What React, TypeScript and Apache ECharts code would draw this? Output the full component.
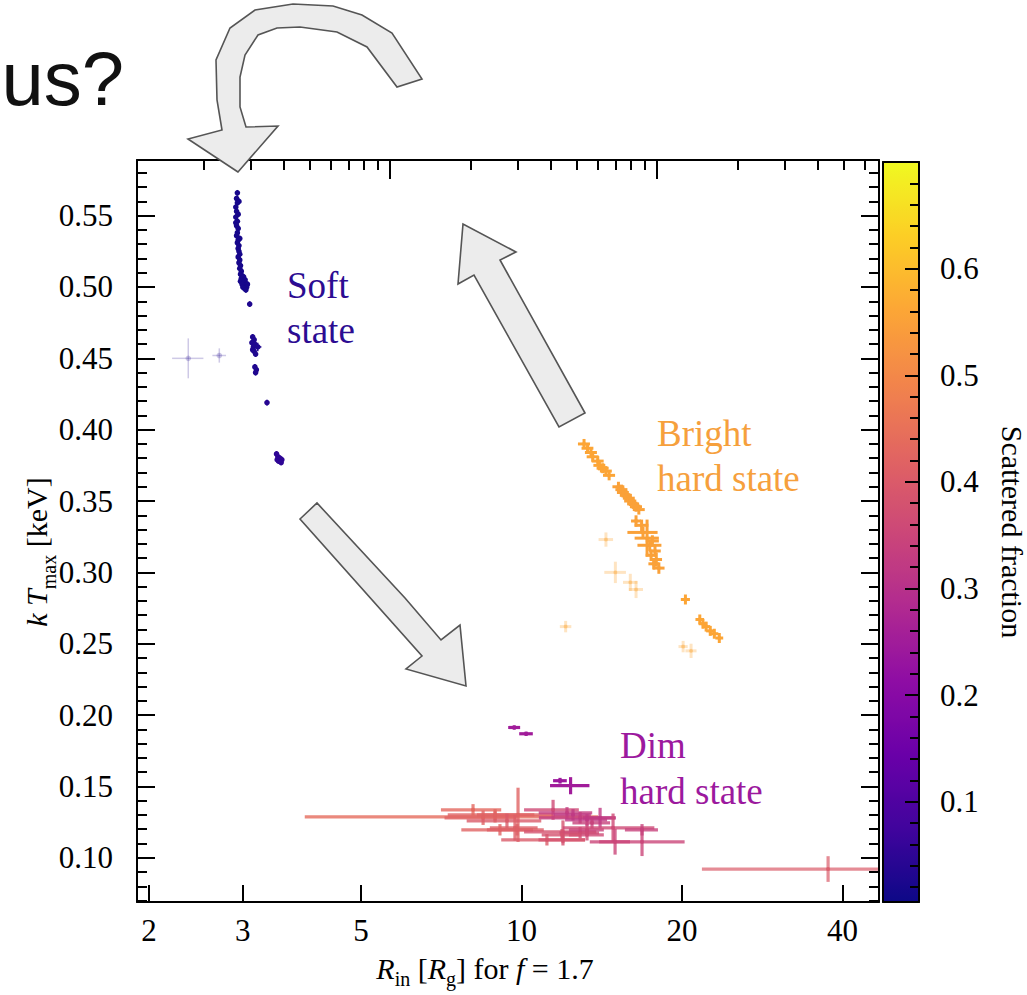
import React, { useEffect, useRef } from "react";
import * as echarts from "echarts";

// matplotlib "plasma" colour map stops
const PLASMA = [
  "#0d0887", "#41049d", "#6a00a8", "#8f0da4", "#b12a90", "#cc4778",
  "#e16462", "#f2844b", "#fca636", "#fcce25", "#f0f921",
];

// axis ranges
const R_MIN = 1.899;
const R_MAX = 46.85;
const KT_MIN = 0.069;
const KT_MAX = 0.589;
const TOP_MIN = 1.128;
const TOP_MAX = 678.6;
const FRAC_MIN = 0.006;
const FRAC_MAX = 0.7;

// tick values
const R_TICKS = [2, 3, 5, 10, 20, 40];
const KT_TICKS = [0.1, 0.15, 0.2, 0.25, 0.3, 0.35, 0.4, 0.45, 0.5, 0.55];
const KT_MINOR = [
  0.07, 0.08, 0.09, 0.11, 0.12, 0.13, 0.14, 0.16, 0.17, 0.18, 0.19, 0.21, 0.22,
  0.23, 0.24, 0.26, 0.27, 0.28, 0.29, 0.31, 0.32, 0.33, 0.34, 0.36, 0.37, 0.38,
  0.39, 0.41, 0.42, 0.43, 0.44, 0.46, 0.47, 0.48, 0.49, 0.51, 0.52, 0.53, 0.54,
  0.56, 0.57, 0.58,
];
const TOP_MAJOR = [10, 100];
const TOP_MINOR = [
  2, 3, 4, 5, 6, 7, 8, 9, 20, 30, 40, 50, 60, 70, 80, 90, 200, 300, 400, 500, 600,
];
const FRAC_TICKS = [0.1, 0.2, 0.3, 0.4, 0.5, 0.6];
const FRAC_MINOR = [
  0.02, 0.04, 0.06, 0.08, 0.12, 0.14, 0.16, 0.18, 0.22, 0.24, 0.26, 0.28, 0.32,
  0.34, 0.36, 0.38, 0.42, 0.44, 0.46, 0.48, 0.52, 0.54, 0.56, 0.58, 0.62, 0.64,
  0.66, 0.68,
];

// [R_in, kT_max, R_in error, kT error, scattered fraction, opacity]
const SOFT_STATE = [
  [2.93, 0.566, 0.01, 0.002, 0.02, 1],
  [2.92, 0.562, 0.01, 0.002, 0.02, 1],
  [2.95, 0.56, 0.01, 0.002, 0.02, 1],
  [2.93, 0.559, 0.01, 0.002, 0.02, 1],
  [2.91, 0.556, 0.01, 0.002, 0.02, 1],
  [2.92, 0.553, 0.01, 0.002, 0.02, 1],
  [2.94, 0.551, 0.01, 0.002, 0.02, 1],
  [2.91, 0.549, 0.01, 0.002, 0.02, 1],
  [2.93, 0.546, 0.01, 0.002, 0.02, 1],
  [2.91, 0.545, 0.01, 0.002, 0.02, 1],
  [2.92, 0.543, 0.01, 0.002, 0.02, 1],
  [2.94, 0.541, 0.01, 0.002, 0.02, 1],
  [2.93, 0.538, 0.01, 0.002, 0.02, 1],
  [2.92, 0.536, 0.01, 0.002, 0.02, 1],
  [2.96, 0.534, 0.01, 0.002, 0.02, 1],
  [2.94, 0.533, 0.01, 0.002, 0.02, 1],
  [2.93, 0.531, 0.01, 0.002, 0.02, 1],
  [2.95, 0.529, 0.01, 0.002, 0.02, 1],
  [2.94, 0.527, 0.01, 0.002, 0.02, 1],
  [2.95, 0.525, 0.01, 0.002, 0.02, 1],
  [2.96, 0.523, 0.01, 0.002, 0.02, 1],
  [2.94, 0.521, 0.01, 0.002, 0.02, 1],
  [2.96, 0.519, 0.01, 0.002, 0.02, 1],
  [2.95, 0.517, 0.01, 0.002, 0.02, 1],
  [2.97, 0.515, 0.01, 0.002, 0.02, 1],
  [2.96, 0.513, 0.01, 0.002, 0.02, 1],
  [2.98, 0.511, 0.01, 0.002, 0.02, 1],
  [2.97, 0.509, 0.01, 0.002, 0.02, 1],
  [2.99, 0.508, 0.01, 0.002, 0.02, 1],
  [2.98, 0.506, 0.01, 0.002, 0.02, 1],
  [3.01, 0.507, 0.01, 0.002, 0.02, 1],
  [3.0, 0.505, 0.01, 0.002, 0.02, 1],
  [3.03, 0.505, 0.01, 0.002, 0.02, 1],
  [2.97, 0.504, 0.01, 0.002, 0.02, 1],
  [3.01, 0.503, 0.01, 0.002, 0.02, 1],
  [2.99, 0.502, 0.01, 0.002, 0.02, 1],
  [3.06, 0.502, 0.01, 0.002, 0.02, 1],
  [3.03, 0.501, 0.01, 0.002, 0.02, 1],
  [3.0, 0.5, 0.01, 0.002, 0.02, 1],
  [3.05, 0.5, 0.01, 0.002, 0.02, 1],
  [3.02, 0.499, 0.01, 0.002, 0.02, 1],
  [3.04, 0.498, 0.01, 0.002, 0.02, 1],
  [3.09, 0.488, 0.01, 0.002, 0.03, 1],
  [3.13, 0.465, 0.01, 0.002, 0.03, 1],
  [3.15, 0.463, 0.01, 0.002, 0.03, 1],
  [3.12, 0.461, 0.01, 0.002, 0.03, 1],
  [3.16, 0.46, 0.01, 0.002, 0.03, 1],
  [3.14, 0.458, 0.01, 0.002, 0.03, 1],
  [3.2, 0.458, 0.05, 0.003, 0.03, 1],
  [3.13, 0.456, 0.01, 0.002, 0.03, 1],
  [3.15, 0.455, 0.01, 0.002, 0.03, 1],
  [3.17, 0.453, 0.01, 0.002, 0.03, 1],
  [3.16, 0.444, 0.01, 0.002, 0.03, 1],
  [3.18, 0.442, 0.01, 0.002, 0.03, 1],
  [3.17, 0.44, 0.01, 0.002, 0.03, 1],
  [3.33, 0.419, 0.01, 0.002, 0.04, 1],
  [3.47, 0.383, 0.01, 0.002, 0.05, 1],
  [3.49, 0.381, 0.01, 0.002, 0.05, 1],
  [3.52, 0.38, 0.01, 0.002, 0.05, 1],
  [3.48, 0.379, 0.01, 0.002, 0.05, 1],
  [3.5, 0.378, 0.01, 0.002, 0.05, 1],
  [3.55, 0.379, 0.01, 0.002, 0.05, 1],
  [3.54, 0.377, 0.01, 0.002, 0.05, 1],
  [2.37, 0.45, 0.16, 0.014, 0.03, 0.22],
  [2.71, 0.452, 0.08, 0.005, 0.03, 0.22],
];

const BRIGHT_HARD = [
  [13.1, 0.39, 0.34, 0.0035, 0.56, 1],
  [13.3, 0.387, 0.34, 0.0035, 0.56, 1],
  [13.5, 0.384, 0.35, 0.0035, 0.56, 1],
  [13.6, 0.381, 0.35, 0.0035, 0.56, 1],
  [13.9, 0.378, 0.36, 0.0035, 0.56, 1],
  [14.0, 0.375, 0.36, 0.0035, 0.56, 1],
  [14.2, 0.373, 0.37, 0.0035, 0.56, 1],
  [14.4, 0.371, 0.37, 0.0035, 0.56, 1],
  [14.6, 0.368, 0.38, 0.0035, 0.56, 1],
  [15.2, 0.36, 0.39, 0.0035, 0.55, 1],
  [15.4, 0.358, 0.4, 0.0035, 0.55, 1],
  [15.5, 0.356, 0.4, 0.0035, 0.55, 1],
  [15.7, 0.354, 0.41, 0.0035, 0.55, 1],
  [15.9, 0.352, 0.41, 0.0035, 0.55, 1],
  [16.0, 0.35, 0.42, 0.0035, 0.55, 1],
  [16.2, 0.348, 0.42, 0.0035, 0.55, 1],
  [16.4, 0.346, 0.43, 0.0035, 0.55, 1],
  [16.6, 0.344, 0.43, 0.0035, 0.55, 1],
  [16.4, 0.336, 0.35, 0.004, 0.55, 1],
  [16.8, 0.333, 0.5, 0.004, 0.55, 1],
  [17.2, 0.324, 0.9, 0.013, 0.55, 1],
  [16.9, 0.328, 1.1, 0.004, 0.55, 1],
  [17.6, 0.322, 0.5, 0.004, 0.55, 1],
  [17.4, 0.319, 0.9, 0.004, 0.55, 1],
  [17.8, 0.315, 0.45, 0.004, 0.55, 1],
  [17.5, 0.312, 0.4, 0.004, 0.55, 1],
  [17.9, 0.309, 0.45, 0.005, 0.55, 1],
  [17.7, 0.306, 0.4, 0.004, 0.55, 1],
  [18.1, 0.303, 0.45, 0.004, 0.55, 1],
  [20.3, 0.281, 0.4, 0.0035, 0.56, 1],
  [21.6, 0.267, 0.4, 0.0035, 0.56, 1],
  [21.9, 0.264, 0.4, 0.0035, 0.56, 1],
  [22.2, 0.262, 0.4, 0.0035, 0.56, 1],
  [22.6, 0.259, 0.4, 0.0035, 0.56, 1],
  [23.0, 0.257, 0.4, 0.0035, 0.56, 1],
  [23.5, 0.254, 0.4, 0.0035, 0.56, 1],
  [14.4, 0.323, 0.45, 0.005, 0.56, 0.3],
  [15.0, 0.3, 0.7, 0.0075, 0.56, 0.3],
  [16.0, 0.293, 0.5, 0.006, 0.56, 0.3],
  [16.4, 0.288, 0.5, 0.006, 0.56, 0.3],
  [12.1, 0.262, 0.3, 0.004, 0.56, 0.3],
  [20.1, 0.248, 0.4, 0.004, 0.56, 0.3],
  [20.8, 0.245, 0.5, 0.005, 0.56, 0.3],
];

const DIM_HARD = [
  [8.92, 0.1287, 5.0, 0.004, 0.44, 0.8],
  [9.85, 0.1301, 1.6, 0.019, 0.42, 0.8],
  [8.92, 0.1301, 1.65, 0.004, 0.42, 0.8],
  [8.11, 0.1336, 1.05, 0.004, 0.43, 0.8],
  [8.47, 0.128, 1.3, 0.005, 0.42, 0.8],
  [9.39, 0.1259, 1.5, 0.005, 0.4, 0.8],
  [9.72, 0.121, 1.0, 0.009, 0.41, 0.8],
  [9.11, 0.1196, 1.4, 0.004, 0.42, 0.8],
  [9.81, 0.1196, 1.2, 0.004, 0.41, 0.8],
  [11.46, 0.1336, 1.35, 0.007, 0.36, 0.8],
  [12.17, 0.1315, 1.4, 0.004, 0.33, 0.8],
  [12.49, 0.1301, 1.0, 0.004, 0.32, 0.8],
  [12.88, 0.128, 2.1, 0.004, 0.33, 0.8],
  [13.27, 0.1266, 1.2, 0.004, 0.32, 0.8],
  [13.56, 0.1245, 1.1, 0.004, 0.34, 0.8],
  [14.04, 0.128, 1.0, 0.007, 0.32, 0.8],
  [11.96, 0.1182, 1.85, 0.008, 0.38, 0.8],
  [12.88, 0.1175, 1.1, 0.004, 0.36, 0.8],
  [13.27, 0.1196, 1.0, 0.004, 0.34, 0.8],
  [14.85, 0.121, 2.9, 0.01, 0.36, 0.8],
  [14.98, 0.1112, 1.0, 0.009, 0.35, 0.8],
  [16.83, 0.1112, 3.4, 0.01, 0.35, 0.8],
  [16.83, 0.1196, 1.2, 0.004, 0.34, 0.8],
  [13.27, 0.1161, 1.0, 0.004, 0.36, 0.8],
  [11.16, 0.1126, 2.0, 0.004, 0.4, 0.8],
  [11.96, 0.1126, 1.2, 0.004, 0.38, 0.8],
  [11.91, 0.1161, 1.0, 0.004, 0.38, 0.8],
  [37.6, 0.0921, 15.8, 0.009, 0.4, 0.7],
  [9.69, 0.1913, 0.25, 0.0015, 0.25, 1],
  [10.2, 0.1869, 0.3, 0.0015, 0.25, 1],
  [11.81, 0.154, 0.35, 0.002, 0.24, 1],
  [12.36, 0.1505, 1.05, 0.006, 0.25, 1],
];

const SERIF = "Liberation Serif";
const TICK_FONT = 31;
const BLACK = "#000000";

type Marker = { dot: number; lw: number };

// Draws one data point: horizontal and vertical error bars plus a dot.
function errorBarItem(marker: Marker) {
  return (params: any, api: any) => {
    const x = api.value(0);
    const y = api.value(1);
    const xe = api.value(2);
    const ye = api.value(3);
    const alpha = api.value(5);
    const color = api.visual("color");
    const c = api.coord([x, y]);
    const l = api.coord([Math.max(x - xe, 1e-3), y]);
    const r = api.coord([x + xe, y]);
    const t = api.coord([x, y + ye]);
    const b = api.coord([x, y - ye]);
    return {
      type: "group",
      children: [
        {
          type: "line",
          shape: { x1: l[0], y1: l[1], x2: r[0], y2: r[1] },
          style: { stroke: color, lineWidth: marker.lw, opacity: alpha },
        },
        {
          type: "line",
          shape: { x1: t[0], y1: t[1], x2: b[0], y2: b[1] },
          style: { stroke: color, lineWidth: marker.lw, opacity: alpha },
        },
        {
          type: "circle",
          shape: { cx: c[0], cy: c[1], r: marker.dot },
          style: { fill: color, opacity: alpha },
        },
      ],
    };
  };
}

// Tick label placed beside an axis position, offset by (dx, dy) pixels.
function tickLabelItem(
  format: (p: number[]) => string,
  dx: number,
  dy: number,
  align: string,
  vAlign: string
) {
  return (params: any, api: any) => {
    const v = [api.value(0), api.value(1)];
    const c = api.coord(v);
    return {
      type: "text",
      x: c[0] + dx,
      y: c[1] + dy,
      style: {
        text: format(v),
        fontFamily: SERIF,
        fontSize: TICK_FONT,
        fill: BLACK,
        textAlign: align,
        textVerticalAlign: vAlign,
      },
    };
  };
}

const tickLine = { color: BLACK, width: 2 };

function tickAxis(extra: any) {
  return {
    splitLine: { show: false },
    axisLine: { show: false, onZero: false, lineStyle: tickLine },
    axisLabel: { show: false },
    ...extra,
  };
}

const ARROW_STYLE = { fill: "#ececec", stroke: "#555555", lineWidth: 1.6 };

const option: any = {
  animation: false,
  backgroundColor: "#ffffff",
  textStyle: { fontFamily: SERIF },
  grid: [
    { left: 137, top: 160, width: 742, height: 742, show: false },
    { left: 883, top: 162, width: 36, height: 740, show: false },
  ],
  xAxis: [
    tickAxis({
      type: "log",
      logBase: 10,
      gridIndex: 0,
      position: "bottom",
      min: R_MIN,
      max: R_MAX,
      z: 5,
      axisLine: { show: true, onZero: false, lineStyle: tickLine },
      axisTick: { show: true, inside: true, length: 17, customValues: R_TICKS, lineStyle: tickLine },
    }),
    tickAxis({
      type: "log",
      logBase: 10,
      gridIndex: 0,
      position: "top",
      min: TOP_MIN,
      max: TOP_MAX,
      z: 5,
      axisLine: { show: true, onZero: false, lineStyle: tickLine },
      axisTick: { show: true, inside: true, length: 19, customValues: TOP_MAJOR, lineStyle: tickLine },
    }),
    tickAxis({
      type: "log",
      logBase: 10,
      gridIndex: 0,
      position: "top",
      min: TOP_MIN,
      max: TOP_MAX,
      z: 5,
      axisTick: { show: true, inside: true, length: 10, customValues: TOP_MINOR, lineStyle: tickLine },
    }),
    tickAxis({
      type: "value",
      gridIndex: 1,
      position: "bottom",
      min: 0,
      max: 1,
      z: 10,
      axisLine: { show: true, onZero: false, lineStyle: tickLine },
      axisTick: { show: false },
    }),
    tickAxis({
      type: "value",
      gridIndex: 1,
      position: "top",
      min: 0,
      max: 1,
      z: 10,
      axisLine: { show: true, onZero: false, lineStyle: tickLine },
      axisTick: { show: false },
    }),
  ],
  yAxis: [
    tickAxis({
      type: "value",
      gridIndex: 0,
      position: "left",
      min: KT_MIN,
      max: KT_MAX,
      z: 5,
      axisLine: { show: true, onZero: false, lineStyle: tickLine },
      axisTick: { show: true, inside: true, length: 18, customValues: KT_TICKS, lineStyle: tickLine },
    }),
    tickAxis({
      type: "value",
      gridIndex: 0,
      position: "left",
      min: KT_MIN,
      max: KT_MAX,
      z: 5,
      axisTick: { show: true, inside: true, length: 10, customValues: KT_MINOR, lineStyle: tickLine },
    }),
    tickAxis({
      type: "value",
      gridIndex: 0,
      position: "right",
      min: KT_MIN,
      max: KT_MAX,
      z: 5,
      axisLine: { show: true, onZero: false, lineStyle: tickLine },
      axisTick: { show: true, inside: true, length: 18, customValues: KT_TICKS, lineStyle: tickLine },
    }),
    tickAxis({
      type: "value",
      gridIndex: 0,
      position: "right",
      min: KT_MIN,
      max: KT_MAX,
      z: 5,
      axisTick: { show: true, inside: true, length: 10, customValues: KT_MINOR, lineStyle: tickLine },
    }),
    tickAxis({
      type: "value",
      gridIndex: 1,
      position: "right",
      min: FRAC_MIN,
      max: FRAC_MAX,
      z: 10,
      axisLine: { show: true, onZero: false, lineStyle: tickLine },
      axisTick: { show: true, inside: true, length: 14, customValues: FRAC_TICKS, lineStyle: tickLine },
    }),
    tickAxis({
      type: "value",
      gridIndex: 1,
      position: "right",
      min: FRAC_MIN,
      max: FRAC_MAX,
      z: 10,
      axisTick: { show: true, inside: true, length: 9, customValues: FRAC_MINOR, lineStyle: tickLine },
    }),
    tickAxis({
      type: "value",
      gridIndex: 1,
      position: "left",
      min: FRAC_MIN,
      max: FRAC_MAX,
      z: 10,
      axisLine: { show: true, onZero: false, lineStyle: tickLine },
      axisTick: { show: false },
    }),
  ],
  visualMap: [
    {
      type: "continuous",
      min: FRAC_MIN,
      max: FRAC_MAX,
      dimension: 4,
      seriesIndex: [0, 1, 2],
      inRange: { color: PLASMA },
      orient: "vertical",
      left: 883,
      top: 162,
      itemWidth: 36,
      itemHeight: 740,
      padding: 0,
      calculable: false,
      hoverLink: false,
      realtime: false,
    },
  ],
  series: [
    {
      name: "Dim hard state",
      type: "custom",
      xAxisIndex: 0,
      yAxisIndex: 0,
      clip: true,
      encode: { x: 0, y: 1 },
      renderItem: errorBarItem({ dot: 2, lw: 3.2 }),
      data: DIM_HARD,
    },
    {
      name: "Bright hard state",
      type: "custom",
      xAxisIndex: 0,
      yAxisIndex: 0,
      clip: true,
      encode: { x: 0, y: 1 },
      renderItem: errorBarItem({ dot: 2, lw: 3 }),
      data: BRIGHT_HARD,
    },
    {
      name: "Soft state",
      type: "custom",
      xAxisIndex: 0,
      yAxisIndex: 0,
      clip: true,
      encode: { x: 0, y: 1 },
      renderItem: errorBarItem({ dot: 2.8, lw: 1.5 }),
      data: SOFT_STATE,
    },
    // tick labels of the R_in axis
    {
      type: "custom",
      silent: true,
      xAxisIndex: 0,
      yAxisIndex: 0,
      clip: false,
      encode: { x: 0, y: 1 },
      renderItem: tickLabelItem((p) => String(p[0]), 0, 13, "center", "top"),
      data: R_TICKS.map((v) => [v, KT_MIN]),
    },
    // tick labels of the kT_max axis
    {
      type: "custom",
      silent: true,
      xAxisIndex: 0,
      yAxisIndex: 0,
      clip: false,
      encode: { x: 0, y: 1 },
      renderItem: tickLabelItem((p) => p[1].toFixed(2), -24, 0, "right", "middle"),
      data: KT_TICKS.map((v) => [R_MIN, v]),
    },
    // tick labels of the colour bar
    {
      type: "custom",
      silent: true,
      xAxisIndex: 3,
      yAxisIndex: 4,
      clip: false,
      encode: { x: 0, y: 1 },
      renderItem: tickLabelItem((p) => p[1].toFixed(1), 21, 0, "left", "middle"),
      data: FRAC_TICKS.map((v) => [1, v]),
    },
  ],
  graphic: [
    {
      type: "text",
      x: 124,
      y: 78,
      style: {
        text: "us?",
        fontFamily: "Liberation Sans",
        fontSize: 76,
        fill: "#111111",
        textAlign: "right",
        textVerticalAlign: "middle",
      },
    },
    // curved arrow above the plot
    {
      type: "polygon",
      z: 20,
      shape: {
        points: [
          [238, 172], [188, 139], [222, 130], [217, 100], [216, 60], [230, 28],
          [255, 10], [293, 4], [333, 6], [362, 15], [392, 33], [422, 79],
          [397, 87], [367, 47], [337, 32], [300, 27], [277, 28], [258, 35],
          [245, 55], [240, 77], [240, 107], [246, 127], [278, 126],
        ],
      },
      style: ARROW_STYLE,
    },
    // arrow from the bright hard state up to the soft state
    {
      type: "polygon",
      z: 20,
      shape: {
        points: [
          [585, 413], [500, 260], [516, 252], [463, 224], [458, 284], [474, 275], [559, 427],
        ],
      },
      style: ARROW_STYLE,
    },
    // arrow from the soft state down to the dim hard state
    {
      type: "polygon",
      z: 20,
      shape: {
        points: [
          [300, 519], [317, 503], [405, 598], [441, 640], [460, 625], [466, 686], [406, 669], [422, 656],
        ],
      },
      style: ARROW_STYLE,
    },
    // state annotations
    {
      type: "text",
      x: 287,
      y: 263,
      z: 20,
      style: {
        text: "Soft\nstate",
        fontFamily: SERIF,
        fontSize: 37,
        lineHeight: 45,
        fill: "#2c0c92",
        textAlign: "left",
        textVerticalAlign: "top",
      },
    },
    {
      type: "text",
      x: 657,
      y: 411,
      z: 20,
      style: {
        text: "Bright\nhard state",
        fontFamily: SERIF,
        fontSize: 37,
        lineHeight: 45,
        fill: "#f6a03c",
        textAlign: "left",
        textVerticalAlign: "top",
      },
    },
    {
      type: "text",
      x: 620,
      y: 722,
      z: 20,
      style: {
        text: "Dim\nhard state",
        fontFamily: SERIF,
        fontSize: 37,
        lineHeight: 46,
        fill: "#9c199e",
        textAlign: "left",
        textVerticalAlign: "top",
      },
    },
    // axis titles
    {
      type: "text",
      x: 485,
      y: 971,
      style: {
        text: "{i|R}{s|in}{n| [}{i|R}{s|g}{n|] for }{i|f}{n| = 1.7}",
        textAlign: "center",
        textVerticalAlign: "middle",
        rich: {
          i: { fontFamily: SERIF, fontStyle: "italic", fontSize: 30, fill: BLACK, verticalAlign: "bottom", padding: [0, 0, 6, 0] },
          n: { fontFamily: SERIF, fontSize: 30, fill: BLACK, verticalAlign: "bottom", padding: [0, 0, 6, 0] },
          s: { fontFamily: SERIF, fontSize: 20, fill: BLACK, verticalAlign: "bottom" },
        },
      },
    },
    {
      type: "text",
      x: 40,
      y: 552,
      rotation: Math.PI / 2,
      style: {
        text: "{i|k}{n| }{i|T}{s|max}{n| [keV]}",
        textAlign: "center",
        textVerticalAlign: "middle",
        rich: {
          i: { fontFamily: SERIF, fontStyle: "italic", fontSize: 30, fill: BLACK, verticalAlign: "bottom", padding: [0, 0, 7, 0] },
          n: { fontFamily: SERIF, fontSize: 30, fill: BLACK, verticalAlign: "bottom", padding: [0, 0, 7, 0] },
          s: { fontFamily: SERIF, fontSize: 20, fill: BLACK, verticalAlign: "bottom" },
        },
      },
    },
    {
      type: "text",
      x: 1012,
      y: 532,
      rotation: -Math.PI / 2,
      style: {
        text: "Scattered fraction",
        fontFamily: SERIF,
        fontSize: 30,
        fill: BLACK,
        textAlign: "center",
        textVerticalAlign: "middle",
      },
    },
  ],
};

export default function App() {
  const ref = useRef<HTMLDivElement>(null);
  useEffect(() => {
    if (!ref.current) return;
    const chart = echarts.init(ref.current, null, { renderer: "svg" });
    chart.setOption(option);
    return () => chart.dispose();
  }, []);
  return (
    <div
      ref={ref}
      style={{ position: "fixed", left: 0, top: 0, width: 1027, height: 995, background: "#fff" }}
    />
  );
}
